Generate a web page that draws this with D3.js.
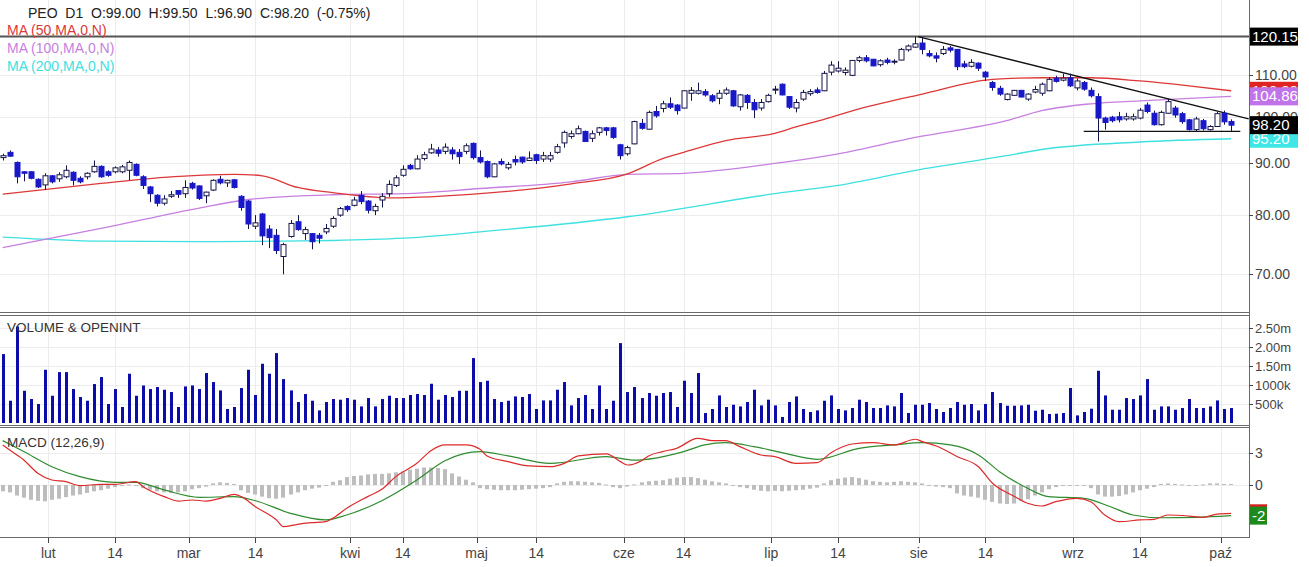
<!DOCTYPE html>
<html>
<head>
<meta charset="utf-8">
<script src="https://cdn.jsdelivr.net/npm/d3@7"></script>
<style>
  body { margin: 0; background: #fff; }
  svg { display: block; font-family: "Liberation Sans", Arial, sans-serif; }
</style>
</head>
<body>
<svg id="chart" width="1309" height="567"></svg>
<script>
// sesje: od 23.01.2023, bez weekendow i swiat GPW
var firstDay = "2023-01-23";
var holidays = ["2023-04-07", "2023-04-10", "2023-05-01", "2023-05-03", "2023-06-08", "2023-08-15"];
var monthNames = ["sty", "lut", "mar", "kwi", "maj", "cze", "lip", "sie", "wrz", "paź", "lis", "gru"];

var openP = [91.2,92.3,90.2,88.3,88.3,86.8,85.7,87.5,86.9,87.3,88.2,87.0,87.3,88.3,89.4,88.3,88.3,88.3,88.6,89.8,
  87.3,85.3,83.7,82.2,83.5,84.6,84.0,86.0,85.5,83.6,84.7,86.8,86.1,86.7,83.5,82.6,78.0,80.2,77.5,76.4,
  72.8,76.2,78.8,76.7,76.7,76.4,77.0,78.0,80.0,81.6,81.8,83.7,82.6,80.8,82.8,84.0,85.6,87.6,89.6,88.9,
  91.0,92.2,92.8,92.5,92.8,92.3,92.5,94.2,91.2,90.4,87.3,90.4,89.1,90.8,91.3,90.6,91.8,90.9,90.9,92.3,
  94.3,95.7,96.3,96.8,95.3,96.6,97.6,97.6,93.9,92.0,94.1,98.6,97.3,101.3,102.0,103.1,102.8,102.1,105.6,105.6,
  106.0,105.0,104.4,105.6,106.2,102.4,105.1,103.4,102.1,103.6,106.4,107.8,104.8,102.1,104.2,105.5,106.4,106.2,110.8,111.1,
  110.7,110.0,113.8,114.5,114.1,112.7,113.9,113.4,113.9,116.6,117.3,118.4,115.6,115.0,115.6,117.1,116.7,112.9,112.3,113.1,
  110.8,108.2,106.8,104.1,105.1,106.3,104.2,105.9,105.6,106.2,109.3,108.8,109.4,106.9,108.2,106.3,104.8,99.8,100.0,100.1,
  99.6,99.6,99.8,102.8,100.9,98.3,100.9,102.1,100.8,99.4,97.2,99.2,97.2,97.9,100.9,99.0];
var highP = [92.0,92.7,90.4,88.4,88.4,87.0,88.0,87.6,88.2,89.6,88.4,87.4,88.2,90.6,89.6,88.6,89.4,89.7,90.6,90.0,
  87.6,85.5,83.9,83.7,84.5,84.7,86.6,86.3,85.6,84.4,86.8,87.5,86.7,86.8,83.7,82.8,80.0,80.4,78.2,77.5,
  75.1,79.1,80.0,77.9,76.8,76.8,78.4,79.8,81.5,81.8,83.4,84.5,82.8,82.1,84.1,86.6,87.6,89.6,89.9,91.7,
  92.4,94.1,93.4,94.2,93.4,93.0,94.2,94.4,92.7,90.6,90.1,91.0,90.3,91.6,91.4,92.5,92.0,92.4,92.4,94.1,
  97.0,97.0,98.1,97.0,97.0,97.8,97.8,97.8,94.1,93.7,99.2,99.6,101.5,102.6,103.8,104.6,103.0,106.3,107.1,108.2,
  106.6,105.4,106.4,107.0,106.4,105.4,105.4,104.2,104.2,105.5,107.4,108.0,104.9,104.2,106.4,106.6,107.0,111.1,113.6,113.6,
  112.0,113.9,115.0,115.2,114.2,114.1,114.5,114.1,117.1,118.0,120.15,119.9,116.5,115.9,117.6,117.6,116.8,113.7,114.1,113.3,
  111.1,108.6,107.4,105.6,106.4,106.4,105.6,107.4,108.2,109.5,109.9,110.4,110.4,109.2,108.6,107.0,105.6,100.1,100.3,101.2,
  101.0,100.8,102.1,103.4,101.5,101.5,104.2,102.6,101.2,99.6,100.1,99.6,98.2,101.2,101.5,99.5];
var lowP = [90.6,91.4,86.0,86.4,86.8,85.1,84.7,86.0,86.3,87.0,85.6,86.0,86.8,88.1,87.1,87.3,88.0,88.0,86.6,87.4,
  84.9,82.4,81.6,81.8,83.2,83.2,83.2,84.8,82.8,82.2,84.5,85.8,85.3,85.0,80.8,77.5,77.5,74.7,74.2,73.2,
  69.9,76.0,77.2,75.6,74.0,75.0,76.6,77.7,79.7,80.6,81.6,82.0,80.3,80.0,81.4,83.4,85.3,87.3,88.7,88.8,
  90.6,92.0,91.4,91.9,90.8,89.9,91.9,90.8,90.0,87.0,87.2,89.6,88.7,89.6,89.9,90.5,89.9,90.3,90.3,92.0,
  93.3,95.2,96.2,94.5,94.5,95.9,95.9,95.2,90.8,91.6,94.0,97.2,97.2,99.9,101.1,101.9,100.6,102.0,103.8,105.3,
  104.8,103.4,103.0,105.2,102.4,101.5,101.9,99.8,101.5,103.4,105.4,105.1,101.9,101.1,103.8,105.0,105.5,106.1,110.0,110.7,
  110.0,109.8,113.3,113.3,112.3,112.2,112.8,112.8,113.8,116.1,117.1,115.4,114.6,113.3,115.2,115.9,111.3,111.8,112.0,111.1,
  108.6,106.2,105.0,103.9,105.0,104.6,103.8,105.6,105.0,106.1,108.2,108.5,107.1,106.3,106.2,104.6,94.6,97.2,98.8,98.8,
  99.2,99.2,99.5,100.9,98.1,98.1,100.8,99.9,98.5,97.0,96.7,97.0,97.0,97.8,98.3,96.9];
var closeP = [91.6,91.5,87.3,88.0,87.0,85.3,87.5,86.3,87.7,88.6,86.6,86.3,88.0,89.4,87.3,87.6,89.1,89.3,90.2,87.6,
  85.6,84.0,82.2,83.0,83.8,83.9,85.2,85.1,83.1,84.3,86.6,86.1,86.6,85.2,81.4,78.4,78.6,76.3,76.0,73.8,
  74.8,78.5,77.4,77.4,75.3,75.9,77.6,79.4,81.2,81.0,82.8,82.5,80.9,81.6,83.5,85.8,87.1,88.8,88.9,90.9,
  91.8,93.0,92.1,93.4,92.0,91.4,93.7,91.2,90.3,87.3,89.9,89.9,89.8,90.3,90.3,91.1,90.6,91.6,91.6,93.5,
  96.6,96.3,97.4,94.6,96.3,97.6,97.0,95.5,91.6,93.3,99.0,97.5,101.1,100.3,103.1,102.3,101.5,106.2,106.3,106.2,
  105.2,103.8,105.6,106.4,102.6,105.2,103.4,101.7,103.4,105.1,106.6,105.2,102.3,103.4,105.8,106.0,105.8,110.5,112.6,111.8,
  111.3,113.8,114.5,113.7,112.4,113.7,113.3,113.6,116.7,117.6,118.2,116.7,115.0,114.4,116.7,116.5,112.2,112.2,113.3,111.8,
  109.6,107.0,105.4,105.4,106.3,104.7,105.4,106.5,107.8,109.0,108.5,109.3,107.4,108.6,106.6,105.0,99.8,98.8,99.2,99.4,
  100.1,100.1,101.6,101.3,98.3,101.1,103.6,100.5,99.0,97.2,99.6,97.4,97.9,100.8,98.95,98.2];

// wolumen w tys. szt.
var volume = [1823,589,2552,853,634,502,1408,721,1346,1346,898,687,589,1030,1215,502,898,423,1303,721,
  993,898,951,880,819,423,967,993,898,1321,1083,861,370,423,925,1408,740,1567,1303,1849,
  1162,861,555,766,589,333,555,634,616,660,616,439,660,439,634,721,660,660,740,766,
  740,1038,616,740,687,853,853,1717,1083,1118,634,555,589,703,687,766,370,597,597,880,
  1083,465,660,740,370,993,370,589,2113,819,951,660,793,721,793,819,423,1118,793,1321,
  264,370,729,423,483,439,555,880,465,616,465,158,555,703,370,291,333,589,729,370,
  333,396,616,555,396,396,465,439,793,264,483,483,528,370,291,396,555,483,502,333,
  502,819,528,457,457,465,483,325,351,238,246,264,925,201,291,378,1382,729,351,351,
  660,634,729,1162,351,439,439,351,396,634,396,396,439,597,370,396];

// srednie kroczace [nr sesji, wartosc]
var ma50 = [[0,83.9],[14,86.0],[23,87.2],[33,87.8],[37,87.5],[42,85.2],[47,84.2],[55,83.2],[68,84.0],[81,85.9],
  [89,87.9],[94,91.0],[97,92.3],[103,94.8],[110,96.4],[113,97.8],[117,99.5],[122,101.9],[131,105.4],[141,109.0],
  [148,109.4],[155,109.4],[162,108.6],[169,107.4],[175,106.2]];
var ma100 = [[0,74.3],[14,77.6],[28,81.3],[35,82.9],[47,83.8],[57,84.0],[68,85.0],[81,86.3],[89,87.8],[97,88.0],
  [110,90.0],[119,92.0],[130,95.5],[143,99.2],[148,101.5],[155,103.1],[162,103.8],[175,104.86]];
var ma200 = [[0,76.1],[14,75.4],[28,75.3],[40,75.4],[47,75.5],[57,75.9],[68,77.0],[89,79.7],[110,84.0],[119,85.6],
  [130,88.6],[143,91.6],[148,92.9],[162,94.5],[175,95.2]];

// MACD (12,26,9)
var macdLine = [[0,3.79],[1,3.31],[3,2.37],[5,1.11],[7,0.47],[9,0.31],[11,-0.06],[14,0.06],[16,0.06],[19,0.31],
  [20,-0.16],[23,-1.1],[25,-1.52],[27,-1.42],[29,-1.52],[31,-1.26],[33,-0.88],[34,-1.1],[36,-2.05],[39,-3.31],
  [40,-3.95],[42,-3.72],[44,-3.57],[46,-3.47],[47,-3.15],[49,-2.21],[52,-1.1],[54,-0.41],[56,0.79],[59,2.05],
  [61,3.25],[63,3.79],[66,3.79],[68,3.38],[69,2.75],[72,2.21],[75,1.8],[78,1.73],[80,2.05],[82,2.75],
  [86,2.94],[88,2.21],[89,1.89],[91,2.3],[92,2.75],[94,3.16],[96,3.47],[99,4.42],[101,4.2],[103,4.2],
  [105,3.63],[108,2.84],[110,2.68],[113,2.05],[116,2.11],[118,3.06],[121,3.88],[124,4.0],[127,3.79],[130,4.33],
  [131,4.1],[133,3.69],[136,2.68],[139,1.73],[141,0.16],[144,-1.04],[146,-1.73],[148,-1.99],[150,-1.58],[153,-1.26],
  [155,-1.58],[157,-2.84],[159,-3.47],[162,-3.31],[164,-3.25],[166,-2.84],[169,-2.94],[171,-3.06],[173,-2.75],[175,-2.68]];
var signalLine = [[0,4.2],[3,3.16],[7,1.73],[11,0.79],[16,0.25],[19,0.25],[23,-0.47],[28,-1.17],[33,-1.1],[36,-1.49],
  [41,-2.68],[46,-3.31],[49,-2.84],[54,-1.49],[59,0.47],[63,2.3],[68,3.16],[72,2.75],[78,2.05],[86,2.68],
  [90,2.35],[97,3.16],[100,3.79],[103,4.0],[107,3.63],[111,3.06],[116,2.43],[122,3.47],[127,3.79],[131,4.0],
  [135,3.79],[139,2.84],[142,1.26],[146,-0.31],[149,-1.1],[154,-1.26],[158,-2.11],[161,-2.84],[165,-3.1],[170,-3.06],
  [175,-2.9]];
var macdHist = [-0.6,-0.7,-1.0,-1.2,-1.4,-1.5,-1.55,-1.4,-1.3,-1.15,-1.0,-0.9,-0.75,-0.6,-0.5,-0.35,-0.2,-0.1,0.05,0.0,
  -0.3,-0.45,-0.6,-0.7,-0.75,-0.7,-0.6,-0.4,-0.3,-0.15,0.15,0.25,0.2,0.1,-0.5,-0.75,-0.9,-1.1,-1.25,-1.3,
  -1.2,-0.9,-0.7,-0.5,-0.35,-0.25,-0.1,0.3,0.45,0.75,0.85,0.9,1.0,1.05,1.05,1.1,1.2,1.3,1.45,1.55,
  1.65,1.65,1.6,1.5,1.1,0.8,0.5,0.25,-0.3,-0.4,-0.45,-0.5,-0.5,-0.5,-0.45,-0.4,-0.35,-0.3,-0.2,0.15,
  0.3,0.35,0.35,0.3,0.25,0.2,0.05,-0.2,-0.3,-0.15,0.05,0.25,0.35,0.4,0.45,0.6,0.7,0.75,0.75,0.65,
  0.5,0.35,0.25,0.15,-0.1,-0.2,-0.3,-0.45,-0.55,-0.6,-0.55,-0.6,-0.55,-0.5,-0.45,-0.35,-0.25,0.15,0.45,0.6,
  0.7,0.75,0.65,0.5,0.35,0.3,0.25,0.3,0.35,0.3,0.25,0.15,-0.1,-0.15,-0.2,-0.3,-0.8,-1.0,-1.1,-1.2,
  -1.4,-1.6,-1.75,-1.8,-1.75,-1.5,-1.35,-1.0,-0.7,-0.4,-0.2,-0.1,-0.1,-0.05,-0.1,-0.3,-0.9,-1.1,-1.1,-1.05,
  -0.9,-0.7,-0.5,-0.35,-0.2,0.1,0.15,0.1,0.05,-0.05,0.0,0.05,0.15,0.15,0.1,0.1];

// linie rysowane na wykresie
var resistance = 120.15;
var trendLine = [[130.4, 120.15], [177.5, 99.6]];
var supportLine = [[154, 96.8], [176.3, 96.8]];

var priceTicks = [70, 80, 90, 100, 110];
var volTicks = [500, 1000, 1500, 2000, 2500];
var volTickLabels = ["500k", "1000k", "1.50m", "2.00m", "2.50m"];
var macdTicks = [3, 0];

var header = "PEO  D1  O:99.00  H:99.50  L:96.90  C:98.20  (-0.75%)";
var maNames = ["MA (50,MA,0,N)", "MA (100,MA,0,N)", "MA (200,MA,0,N)"];

var colUp = "#ffffff", colDown = "#1818c8", colWick = "#15154a";
var colMa50 = "#dd3838", colMa100 = "#c77fe0", colMa200 = "#3ee0e0";
var colGrid = "#ececec", colAxis = "#6a6a6a", colText = "#333";

//sesje gieldowe
function tradingDays(start, count, skip) {
    var fmt = d3.timeFormat("%Y-%m-%d");
    var out = [];
    var d = new Date(start + "T12:00:00");
    while (out.length < count) {
        var wd = d.getDay();
        if (wd !== 0 && wd !== 6 && skip.indexOf(fmt(d)) < 0) out.push(new Date(d));
        d.setDate(d.getDate() + 1);
    }
    return out;
}
var days = tradingDays(firstDay, closeP.length, holidays);

//znaczniki: poczatek miesiaca na granicy sesji, "14" na sesji
var xTicks = [];
days.forEach(function (d, i) {
    if (i === 0) return;
    var p = days[i - 1];
    if (d.getMonth() !== p.getMonth()) xTicks.push({pos: i - 0.5, label: monthNames[d.getMonth()]});
    else if (p.getDate() < 14 && d.getDate() >= 14) xTicks.push({pos: i, label: "14"});
});

var plotRight = 1249;
var svg = d3.select("#chart");

var x = d3.scaleLinear().domain([-0.385, 177.54]).range([0, plotRight]);
var yPrice = d3.scaleLog().domain([64.08, 130.6]).range([312.5, 0]);
var yVol = d3.scaleLinear().domain([0, 2830]).range([423, 316]);
var yMacd = d3.scaleLinear().domain([-4.97, 5.44]).range([537.5, 427.5]);

var panels = [[0, 312.5], [315.5, 425.5], [427.5, 537.5]];

var defs = svg.append("defs");
panels.forEach(function (p, k) {
    defs.append("clipPath").attr("id", "clip" + k)
        .append("rect").attr("x", 0).attr("y", p[0]).attr("width", plotRight).attr("height", p[1] - p[0]);
});

function tickX(d) { return Math.round(x(d.pos)) + 0.5; }

//siatka
var grid = svg.append("g").attr("id", "grid");
panels.forEach(function (p) {
    grid.selectAll(null).data(xTicks).enter().append("line")
        .attr("x1", tickX).attr("x2", tickX)
        .attr("y1", p[0]).attr("y2", p[1])
        .attr("stroke", colGrid);
});
function hGrid(ticks, scale) {
    grid.selectAll(null).data(ticks).enter().append("line")
        .attr("x1", 0).attr("x2", plotRight)
        .attr("y1", function (d) { return Math.round(scale(d)) + 0.5; })
        .attr("y2", function (d) { return Math.round(scale(d)) + 0.5; })
        .attr("stroke", colGrid);
}
hGrid(priceTicks, yPrice);
hGrid(volTicks, yVol);
hGrid(macdTicks, yMacd);

//panel cen
var gMain = svg.append("g").attr("clip-path", "url(#clip0)");

function maLine(data, color) {
    gMain.append("path").datum(data)
        .attr("fill", "none").attr("stroke", color).attr("stroke-width", 1.3)
        .attr("d", d3.line().curve(d3.curveMonotoneX)
            .x(function (d) { return x(d[0]); })
            .y(function (d) { return yPrice(d[1]); }));
}
maLine(ma200, colMa200);
maLine(ma100, colMa100);
maLine(ma50, colMa50);

gMain.append("line")
    .attr("x1", 0).attr("x2", plotRight)
    .attr("y1", yPrice(resistance)).attr("y2", yPrice(resistance))
    .attr("stroke", "#555").attr("stroke-width", 2);

[trendLine, supportLine].forEach(function (ln) {
    gMain.append("line")
        .attr("x1", x(ln[0][0])).attr("y1", yPrice(ln[0][1]))
        .attr("x2", x(ln[1][0])).attr("y2", yPrice(ln[1][1]))
        .attr("stroke", "#111").attr("stroke-width", 1.3);
});

var bars = closeP.map(function (c, i) {
    return {i: i, o: openP[i], h: highP[i], l: lowP[i], c: c};
});

gMain.selectAll("line.wick").data(bars).enter().append("line")
    .attr("class", "wick")
    .attr("x1", function (d) { return Math.round(x(d.i)) + 0.5; })
    .attr("x2", function (d) { return Math.round(x(d.i)) + 0.5; })
    .attr("y1", function (d) { return yPrice(d.h); })
    .attr("y2", function (d) { return yPrice(d.l); })
    .attr("stroke", colWick).attr("stroke-width", 1);

gMain.selectAll("rect.body").data(bars).enter().append("rect")
    .attr("class", "body")
    .attr("x", function (d) { return Math.round(x(d.i)) - 2; })
    .attr("y", function (d) { return yPrice(Math.max(d.o, d.c)); })
    .attr("width", 5)
    .attr("height", function (d) { return Math.max(1, yPrice(Math.min(d.o, d.c)) - yPrice(Math.max(d.o, d.c))); })
    .attr("fill", function (d) { return d.c >= d.o ? colUp : colDown; })
    .attr("stroke", function (d) { return d.c >= d.o ? colWick : colDown; })
    .attr("stroke-width", 1);

//panel wolumenu
var gVol = svg.append("g").attr("clip-path", "url(#clip1)");
gVol.selectAll("rect").data(volume).enter().append("rect")
    .attr("x", function (d, i) { return Math.round(x(i)) - 1; })
    .attr("y", function (d) { return yVol(d); })
    .attr("width", 3)
    .attr("height", function (d) { return yVol(0) - yVol(d); })
    .attr("fill", "#0c0caa");

//panel MACD
var gMacd = svg.append("g").attr("clip-path", "url(#clip2)");
gMacd.selectAll("rect").data(macdHist).enter().append("rect")
    .attr("x", function (d, i) { return Math.round(x(i)) - 2; })
    .attr("y", function (d) { return yMacd(Math.max(0, d)); })
    .attr("width", 4)
    .attr("height", function (d) { return Math.max(1, Math.abs(yMacd(d) - yMacd(0))); })
    .attr("fill", "#bdbdbd");

function macdPath(data, color) {
    gMacd.append("path").datum(data)
        .attr("fill", "none").attr("stroke", color).attr("stroke-width", 1.2)
        .attr("d", d3.line().curve(d3.curveMonotoneX)
            .x(function (d) { return x(d[0]); })
            .y(function (d) { return yMacd(d[1]); }));
}
macdPath(signalLine, "#2e8b2e");
macdPath(macdLine, "#dd2a2a");

//ramki paneli
var frame = svg.append("g").attr("stroke", colAxis).attr("fill", "none");
[312.5, 315.5, 425.5, 427.5, 537.5].forEach(function (yy) {
    frame.append("line").attr("x1", 0).attr("x2", plotRight).attr("y1", yy).attr("y2", yy);
});
frame.append("line").attr("x1", plotRight + 0.5).attr("x2", plotRight + 0.5).attr("y1", 0).attr("y2", 538);

//os X
var gx = svg.append("g");
gx.selectAll("line").data(xTicks).enter().append("line")
    .attr("x1", tickX).attr("x2", tickX)
    .attr("y1", 538).attr("y2", 543)
    .attr("stroke", "#444");
gx.selectAll("text").data(xTicks).enter().append("text")
    .attr("x", function (d) { return x(d.pos); })
    .attr("y", 558)
    .attr("text-anchor", "middle")
    .attr("font-size", 14).attr("fill", "#444")
    .text(function (d) { return d.label; });

//osie po prawej
function rightAxis(ticks, scale, labels, size) {
    var g = svg.append("g");
    g.selectAll("line").data(ticks).enter().append("line")
        .attr("x1", plotRight).attr("x2", plotRight + 4)
        .attr("y1", function (d) { return Math.round(scale(d)) + 0.5; })
        .attr("y2", function (d) { return Math.round(scale(d)) + 0.5; })
        .attr("stroke", "#444");
    g.selectAll("text").data(ticks).enter().append("text")
        .attr("x", plotRight + 6)
        .attr("y", function (d) { return scale(d) + 5; })
        .attr("font-size", size).attr("fill", "#444")
        .text(function (d, i) { return labels[i]; });
}
rightAxis(priceTicks, yPrice, priceTicks.map(d3.format(".2f")), 14);
rightAxis(volTicks, yVol, volTickLabels, 13);
rightAxis(macdTicks, yMacd, macdTicks.map(String), 14);

//etykiety wartosci (nachodza na siebie jak w oryginale)
function valueBox(yy, text, bg, w) {
    var g = svg.append("g");
    g.append("rect").attr("x", plotRight + 1).attr("y", yy - 9).attr("width", w).attr("height", 18).attr("fill", bg);
    g.append("text").attr("x", plotRight + 3).attr("y", yy + 5)
        .attr("font-size", 15).attr("fill", "#fff").text(text);
}
var f2 = d3.format(".2f");
var lastMa50 = ma50[ma50.length - 1][1], lastMa100 = ma100[ma100.length - 1][1], lastMa200 = ma200[ma200.length - 1][1];
valueBox(yPrice(lastMa50), f2(lastMa50), "#e02424", 48);
valueBox(yPrice(lastMa200), f2(lastMa200), "#3ee6e6", 48);
valueBox(yPrice(lastMa100), f2(lastMa100), "#c173ea", 48);
valueBox(yPrice(closeP[closeP.length - 1]), f2(closeP[closeP.length - 1]), "#000", 48);
valueBox(yPrice(resistance), f2(resistance), "#000", 48);
var lastMacd = macdLine[macdLine.length - 1][1], lastSignal = signalLine[signalLine.length - 1][1];
valueBox(yMacd(lastMacd), String(Math.trunc(lastMacd)), "#d42020", 17);
valueBox(yMacd(lastSignal), String(Math.trunc(lastSignal)), "#1e8a1e", 17);

//opisy
svg.append("text").attr("x", 28).attr("y", 18).attr("font-size", 14).attr("fill", "#222")
    .style("white-space", "pre").text(header);
var maCols = [colMa50, colMa100, colMa200];
maNames.forEach(function (n, k) {
    svg.append("text").attr("x", 7).attr("y", 35 + 18 * k).attr("font-size", 14)
        .attr("fill", maCols[k]).text(n);
});
svg.append("text").attr("x", 7).attr("y", 332).attr("font-size", 13.5).attr("fill", colText).text("VOLUME & OPENINT");
svg.append("text").attr("x", 7).attr("y", 447).attr("font-size", 13.5).attr("fill", colText).text("MACD (12,26,9)");
</script>
</body>
</html>
